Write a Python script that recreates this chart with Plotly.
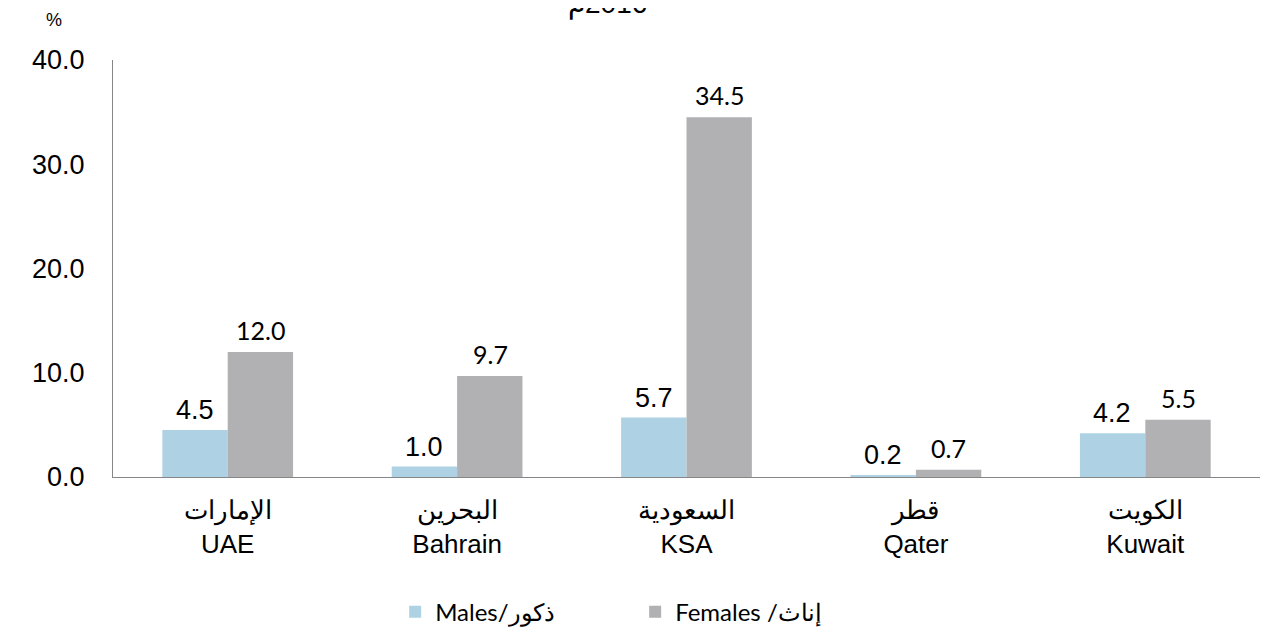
import plotly.graph_objects as go

countries_en = ["UAE", "Bahrain", "KSA", "Qater", "Kuwait"]
countries_ar = ["الإمارات", "البحرين", "السعودية", "قطر", "الكويت"]
males = [4.5, 1.0, 5.7, 0.2, 4.2]
females = [12.0, 9.7, 34.5, 0.7, 5.5]
y_ticks = [0, 10, 20, 30, 40]
y_tick_labels = ["0.0", "10.0", "20.0", "30.0", "40.0"]

male_name = "Males/ذكور"
female_name = "Females /إناث"
title_text = "م\u200e2016"

MALE_C = "#AED2E4"
FEMALE_C = "#B1B1B3"

ticktext = [f"{a}<br>{e}" for a, e in zip(countries_ar, countries_en)]

fig = go.Figure()
fig.add_trace(go.Bar(x=countries_en, y=males, name=male_name, marker_color=MALE_C,
                     marker_line_width=0))
fig.add_trace(go.Bar(x=countries_en, y=females, name=female_name, marker_color=FEMALE_C,
                     marker_line_width=0))

annotations = []
for c, m, f in zip(countries_en, males, females):
    annotations.append(dict(x=c, y=m, xref="x", yref="y", text=f"{m:.1f}", showarrow=False,
                            xshift=-33, yanchor="bottom", yshift=3,
                            font=dict(family="Liberation Sans, Arial", size=27, color="#000")))
    annotations.append(dict(x=c, y=f, xref="x", yref="y", text=f"{f:.1f}", showarrow=False,
                            xshift=33, yanchor="bottom", yshift=5,
                            font=dict(family="Lato, Open Sans", size=25, color="#000")))

annotations.append(dict(x=-0.0515, y=1.096, xref="paper", yref="paper", text="%",
                        showarrow=False, xanchor="center", yanchor="middle",
                        font=dict(family="Liberation Sans, Arial", size=18, color="#000")))
annotations.append(dict(x=0.431, y=1.092, xref="paper", yref="paper", text=title_text,
                        showarrow=False, xanchor="center", yanchor="bottom",
                        font=dict(family="Liberation Sans, Arial", size=28, color="#000")))

fig.update_layout(
    width=1278, height=624,
    margin=dict(l=105, r=26, t=52, b=155, autoexpand=False),
    paper_bgcolor="white", plot_bgcolor="white",
    barmode="group", bargap=0.43, bargroupgap=0,
    showlegend=True,
    legend=dict(orientation="h", x=0.246, y=-0.324, xanchor="left", yanchor="middle",
                font=dict(family="Lato, Open Sans", size=24, color="#000"),
                entrywidth=195, entrywidthmode="pixels", traceorder="normal"),
    annotations=annotations,
    xaxis=dict(tickmode="array", tickvals=countries_en, ticktext=ticktext,
               showline=True, linecolor="#868686", linewidth=1, ticks="",
               showgrid=False, ticklabelstandoff=10, automargin=False,
               tickfont=dict(family="Liberation Sans, Arial", size=26, color="#000"),
               fixedrange=True),
    yaxis=dict(range=[0, 40], tickmode="array", tickvals=y_ticks, ticktext=y_tick_labels,
               showline=True, linecolor="#868686", linewidth=1, ticks="",
               showgrid=False, zeroline=False, ticklabelstandoff=22, automargin=False,
               tickfont=dict(family="Liberation Sans, Arial", size=27, color="#000")),
)

fig.write_html("out.html")
